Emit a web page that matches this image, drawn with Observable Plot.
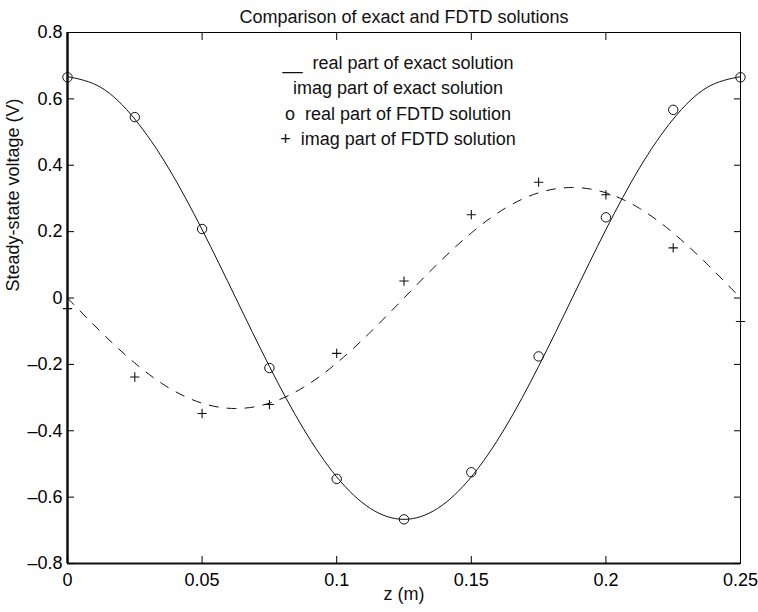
<!DOCTYPE html>
<html>
<head>
<meta charset="utf-8">
<script src="https://cdn.jsdelivr.net/npm/d3@7"></script>
<script src="https://cdn.jsdelivr.net/npm/@observablehq/plot@0.6"></script>
<style>
  html, body { margin: 0; padding: 0; background: #fff; }
</style>
</head>
<body>
<div id="chart"></div>
<script>
// ---- data ----
const titleText = "Comparison of exact and FDTD solutions";
const xLabelText = "z (m)";
const yLabelText = "Steady-state voltage (V)";
const legendLines = [
  "__  real part of exact solution",
  "imag part of exact solution",
  "o  real part of FDTD solution",
  "+  imag part of FDTD solution"
];

const xTicks = [0, 0.05, 0.1, 0.15, 0.2, 0.25];
const xTickLabels = ["0", "0.05", "0.1", "0.15", "0.2", "0.25"];
const yTicks = [-0.8, -0.6, -0.4, -0.2, 0, 0.2, 0.4, 0.6, 0.8];
const yTickLabels = ["–0.8", "–0.6", "–0.4", "–0.2", "0", "0.2", "0.4", "0.6", "0.8"];

// exact solution, sampled along z
const zCurve = [0, 0.0125, 0.025, 0.0375, 0.05, 0.0625, 0.075, 0.0875, 0.1, 0.1125, 0.125,
                0.1375, 0.15, 0.1625, 0.175, 0.1875, 0.2, 0.2125, 0.225, 0.2375, 0.25];
const realExact = [0.667, 0.634, 0.539, 0.392, 0.206, 0.0, -0.206, -0.392, -0.539, -0.634, -0.667,
                   -0.634, -0.539, -0.392, -0.206, 0.0, 0.206, 0.392, 0.539, 0.634, 0.667];
const imagExact = [0, -0.103, -0.196, -0.270, -0.317, -0.333, -0.317, -0.270, -0.196, -0.103, 0,
                   0.103, 0.196, 0.270, 0.317, 0.333, 0.317, 0.270, 0.196, 0.103, 0];

// FDTD solution samples
const zFdtd = [0, 0.025, 0.05, 0.075, 0.1, 0.125, 0.15, 0.175, 0.2, 0.225, 0.25];
const realFdtd = [0.665, 0.545, 0.208, -0.211, -0.545, -0.667, -0.525, -0.176, 0.243, 0.567, 0.665];
const imagFdtd = [-0.032, -0.238, -0.348, -0.321, -0.167, 0.051, 0.251, 0.349, 0.311, 0.151, -0.071];

// ---- tables built from the arrays ----
const exact = zCurve.map((z, i) => ({z, re: realExact[i], im: imagExact[i]}));
const fdtd = zFdtd.map((z, i) => ({z, re: realFdtd[i], im: imagFdtd[i]}));
const xFmt = new Map(xTicks.map((t, i) => [t, xTickLabels[i]]));
const yFmt = new Map(yTicks.map((t, i) => [t, yTickLabels[i]]));

const chart = Plot.plot({
  width: 758,
  height: 612,
  marginLeft: 67,
  marginRight: 18,
  marginTop: 32,
  marginBottom: 49,
  style: {fontFamily: "'Liberation Sans', Arial, Helvetica, sans-serif", fontSize: "18px", color: "#000", background: "#fff"},
  x: {domain: [xTicks[0], xTicks[xTicks.length - 1]]},
  y: {domain: [yTicks[0], yTicks[yTicks.length - 1]]},
  marks: [
    Plot.frame({stroke: "#000", strokeWidth: 1}),
    Plot.ruleX([xTicks[0]], {stroke: "#111", strokeWidth: 2.5}),
    Plot.ruleY([yTicks[0]], {stroke: "#111", strokeWidth: 2}),
    Plot.axisX({anchor: "bottom", ticks: xTicks, tickSize: -7, tickPadding: 16.5, tickFormat: d => xFmt.get(d), label: null}),
    Plot.axisX({anchor: "top", ticks: xTicks, tickSize: -7, tickFormat: () => "", label: null}),
    Plot.axisY({anchor: "left", ticks: yTicks, tickSize: -7, tickPadding: 12, tickFormat: d => yFmt.get(d), label: null}),
    Plot.axisY({anchor: "right", ticks: yTicks, tickSize: -7, tickFormat: () => "", label: null}),
    Plot.line(exact, {x: "z", y: "re", stroke: "#111", strokeWidth: 1, curve: "natural"}),
    Plot.line(exact, {x: "z", y: "im", stroke: "#111", strokeWidth: 1, curve: "natural", strokeDasharray: "9,9"}),
    Plot.dot(fdtd, {x: "z", y: "re", r: 4.7, fill: "none", stroke: "#111", strokeWidth: 1}),
    Plot.dot(fdtd, {x: "z", y: "im", symbol: "plus", r: 3.1, fill: "none", stroke: "#111", strokeWidth: 1.1}),
    Plot.text([legendLines.join("\n")], {frameAnchor: "top", lineAnchor: "top", lineHeight: 1.42, dx: -6, dy: 18, fill: "#111"}),
    Plot.text([titleText], {frameAnchor: "top", dy: -22.5, fill: "#111"}),
    Plot.text([xLabelText], {frameAnchor: "bottom", dy: 36, fill: "#111"}),
    Plot.text([yLabelText], {frameAnchor: "left", rotate: -90, dx: -54, dy: -6.5, fill: "#111"})
  ]
});
document.getElementById("chart").appendChild(chart);
</script>
</body>
</html>
